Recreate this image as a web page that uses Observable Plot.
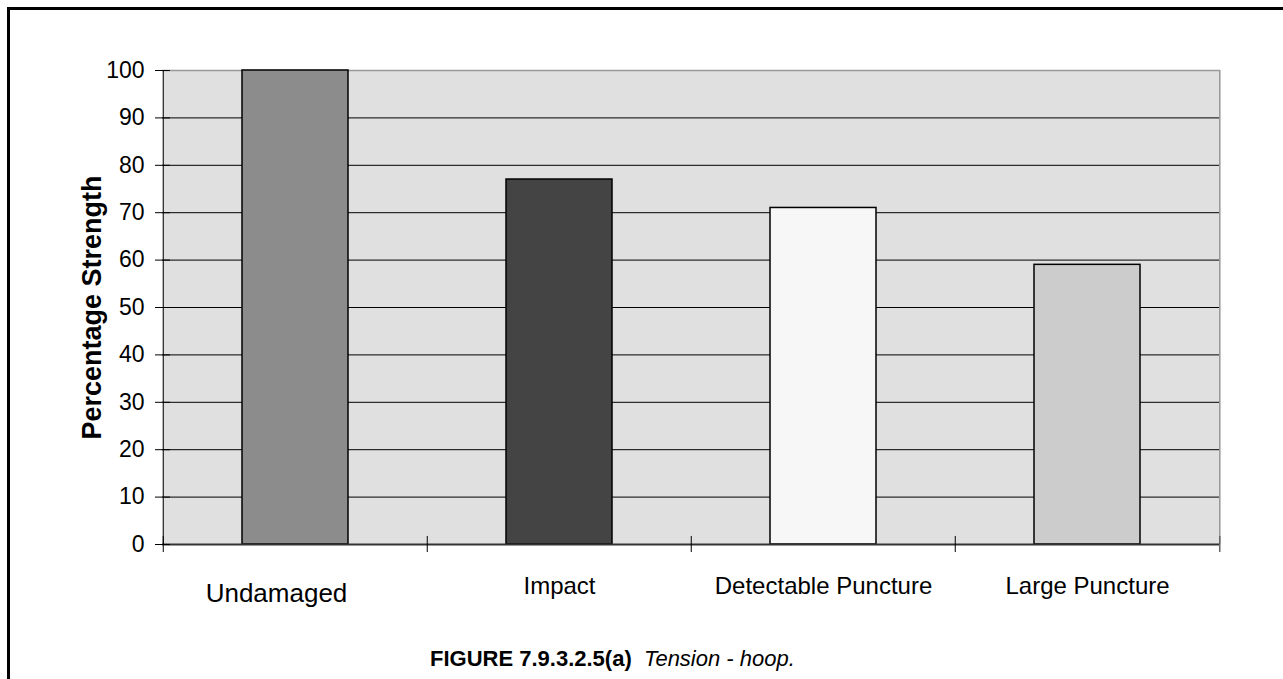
<!DOCTYPE html>
<html>
<head>
<meta charset="utf-8">
<script src="https://cdn.jsdelivr.net/npm/d3@7"></script>
<script src="https://cdn.jsdelivr.net/npm/@observablehq/plot@0.6"></script>
<style>
  html, body { margin: 0; padding: 0; background: #fff; overflow: hidden; width: 1283px; height: 679px; }
  #wrap { position: relative; width: 1283px; height: 679px; font-family: "Liberation Sans", Arial, sans-serif; }
  #chart { position: absolute; left: 0; top: 0; }
  #border { position: absolute; left: 7px; top: 7px; width: 2000px; height: 2000px; border: 3px solid #000; box-sizing: border-box; pointer-events: none; z-index: 2; }
  #caption { position: absolute; left: 430px; top: 648px; font-size: 22px; line-height: 22px; white-space: pre; color: #000; z-index: 3; }
  #caption b { font-weight: bold; }
  #caption i { font-style: italic; }
</style>
</head>
<body>
<div id="wrap">
  <div id="chart"></div>
  <div id="border"></div>
  <div id="caption"><b>FIGURE 7.9.3.2.5(a)</b>  <i>Tension - hoop.</i></div>
</div>
<script>
const categories = ["Undamaged", "Impact", "Detectable Puncture", "Large Puncture"];
const strength = [100, 77, 71, 59];
const barColors = ["#8c8c8c", "#444444", "#f7f7f7", "#cccccc"];
const yTicks = [0, 10, 20, 30, 40, 50, 60, 70, 80, 90, 100];
const yLabel = "Percentage Strength";

const data = categories.map((c, i) => ({cat: c, val: strength[i]}));

const W = 1283, H = 679;
const mL = 162, mR = 63, mT = 70, mB = 135;
const step = (W - mL - mR) / categories.length;
const last = categories[categories.length - 1];
const font = "Liberation Sans, Arial, sans-serif";

const chart = Plot.plot({
  width: W,
  height: H,
  marginLeft: mL,
  marginRight: mR,
  marginTop: mT,
  marginBottom: mB,
  style: {fontFamily: font, background: "transparent", color: "#000"},
  x: {domain: categories, paddingInner: 0.6, paddingOuter: 0.3, align: 0.5, axis: null},
  y: {domain: [0, 100], axis: null},
  color: {domain: categories, range: barColors},
  marks: [
    Plot.frame({fill: "#e0e0e0", stroke: "none"}),
    Plot.ruleY(yTicks.filter(v => v > 0 && v < 100), {stroke: "#000", strokeWidth: 1}),
    Plot.ruleY([100], {stroke: "#999", strokeWidth: 1.5}),
    Plot.ruleX([last], {dx: step / 2, stroke: "#999", strokeWidth: 1.5}),
    Plot.barY(data, {x: "cat", y: "val", fill: "cat", stroke: "#000", strokeWidth: 1.5}),
    Plot.ruleX([categories[0]], {dx: -step / 2, stroke: "#000", strokeWidth: 1}),
    Plot.ruleY([0], {stroke: "#333", strokeWidth: 2}),
    // x tick marks at category boundaries
    Plot.ruleX(categories, {dx: -step / 2, y1: -1.7, y2: 1.7, stroke: "#000", strokeWidth: 1}),
    Plot.ruleX([last], {dx: step / 2, y1: -1.7, y2: 1.7, stroke: "#666", strokeWidth: 1.5}),
    // y ticks crossing the axis (labels left empty)
    Plot.axisY(yTicks, {tickSize: 15, dx: 8, tickFormat: () => "", stroke: "#000", strokeWidth: 1, label: null}),
    // y tick labels
    Plot.text(yTicks, {y: d => d, frameAnchor: "left", textAnchor: "end", dx: -18, fontSize: 23, fill: "#000"}),
    // category labels
    Plot.text(categories.slice(1), {x: d => d, frameAnchor: "bottom", lineAnchor: "bottom", dy: 49, fontSize: 24, fill: "#000"}),
    Plot.text([categories[0]], {x: d => d, frameAnchor: "bottom", lineAnchor: "bottom", dx: -19, dy: 57, fontSize: 26, fill: "#000"}),
    // y axis title
    Plot.text([yLabel], {frameAnchor: "left", textAnchor: "middle", rotate: -90, dx: -70, fontSize: 27, fontWeight: "bold", fill: "#000"})
  ]
});
document.getElementById("chart").appendChild(chart);
</script>
</body>
</html>
